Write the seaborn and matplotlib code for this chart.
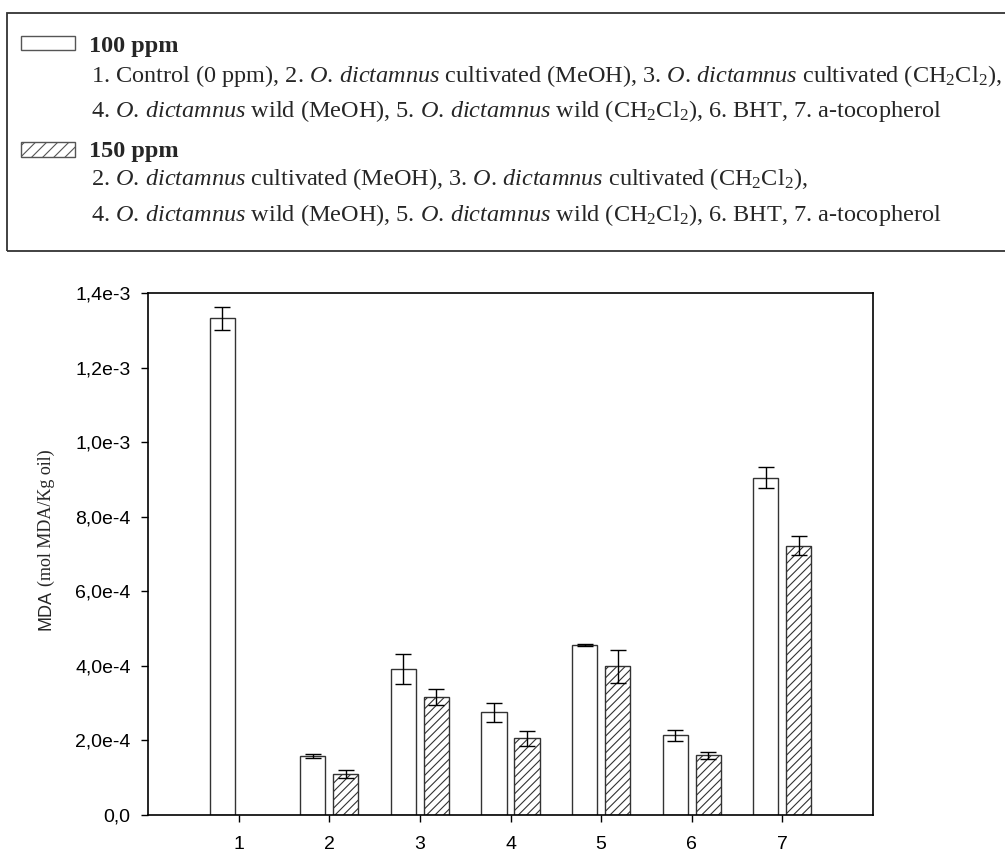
import numpy as np
import pandas as pd
import matplotlib
matplotlib.use('Agg')
import matplotlib.pyplot as plt
import seaborn as sns
from matplotlib.patches import Rectangle
from matplotlib.ticker import FuncFormatter

# ---------------------- data ---------------------- #
samples = ['1', '2', '3', '4', '5', '6', '7']
levels = ['100 ppm', '150 ppm']
mda_100 = [1.332e-3, 1.58e-4, 3.92e-4, 2.75e-4, 4.55e-4, 2.14e-4, 9.05e-4]
err_100 = [3.0e-5, 0.6e-5, 4.1e-5, 2.6e-5, 0.3e-5, 1.5e-5, 2.8e-5]
# sample 1 (control) has no 150 ppm bar
mda_150 = [None, 1.09e-4, 3.16e-4, 2.06e-4, 3.99e-4, 1.60e-4, 7.22e-4]
err_150 = [None, 1.07e-5, 2.1e-5, 2.05e-5, 4.4e-5, 1.0e-5, 2.5e-5]

yticks = [0, 2e-4, 4e-4, 6e-4, 8e-4, 1.0e-3, 1.2e-3, 1.4e-3]

OD = r'$\mathit{O.\!\ dictamnus}$'
legend_lines_100 = [
    f'1. Control (0 ppm), 2. {OD} cultivated (MeOH), 3. {OD} cultivated (CH$_2$Cl$_2$),',
    f'4. {OD} wild (MeOH), 5. {OD} wild (CH$_2$Cl$_2$), 6. BHT, 7. a-tocopherol',
]
legend_lines_150 = [
    f'2. {OD} cultivated (MeOH), 3. {OD} cultivated (CH$_2$Cl$_2$),',
    f'4. {OD} wild (MeOH), 5. {OD} wild (CH$_2$Cl$_2$), 6. BHT, 7. a-tocopherol',
]

rows = []
for s, v in zip(samples, mda_100):
    rows.append({'sample': s, 'level': levels[0], 'mda': v})
for s, v in zip(samples, mda_150):
    if v is not None:
        rows.append({'sample': s, 'level': levels[1], 'mda': v})
df = pd.DataFrame(rows)

# ---------------------- style ---------------------- #
sns.set_style('ticks')
plt.rcParams['font.family'] = ['Liberation Sans', 'DejaVu Sans']
plt.rcParams['mathtext.fontset'] = 'custom'
plt.rcParams['mathtext.rm'] = 'Liberation Serif'
plt.rcParams['mathtext.it'] = 'Liberation Serif:italic'
plt.rcParams['mathtext.bf'] = 'Liberation Serif:bold'
plt.rcParams['hatch.linewidth'] = 0.8
plt.rcParams['hatch.color'] = 'black'

W, H = 1005, 852
fig = plt.figure(figsize=(W / 100, H / 100), dpi=100)
ax = fig.add_axes([148 / W, 37 / H, 725 / W, 522 / H])

sns.barplot(data=df, x='sample', y='mda', hue='level', order=samples,
            hue_order=levels, palette=['white', 'white'], edgecolor='#333333',
            linewidth=1.0, width=0.73, gap=0.24, errorbar=None,
            legend=False, ax=ax)

# hatch the 150 ppm bars and add error bars
errs = [err_100, err_150]
for p in ax.patches:
    xc = p.get_x() + p.get_width() / 2
    i = int(round(xc))
    k = 0 if xc < i else 1
    if k == 1:
        p.set_hatch('////')
    ax.errorbar(xc, p.get_height(), yerr=errs[k][i], fmt='none',
                ecolor='black', elinewidth=1.0, capsize=5.5, capthick=1.0,
                zorder=5)

ax.set_xlim(-1, 7)
ax.set_ylim(0, 1.4e-3)
ax.set_yticks(yticks)


def fmt(v, pos):
    if v == 0:
        return '0,0'
    m, e = f'{v:.1e}'.split('e')
    return f"{m.replace('.', ',')}e{int(e)}"


ax.yaxis.set_major_formatter(FuncFormatter(fmt))
ax.tick_params(axis='both', direction='out', length=5, width=1.0,
               labelsize=14, colors='black')
ax.tick_params(axis='y', pad=7.5)
ax.tick_params(axis='x', pad=10)
for sp in ax.spines.values():
    sp.set_visible(True)
    sp.set_linewidth(1.2)
    sp.set_color('black')
ax.set_xlabel('')
ax.set_ylabel('')

# y label: "MDA" in sans, the unit in serif
fig.canvas.draw()
r = fig.canvas.get_renderer()
t1 = fig.text(46 / W, 1 - 630 / H, 'MDA', rotation=90, ha='center',
              va='bottom', fontsize=13, family='Liberation Sans')
bb = t1.get_window_extent(r)
fig.text(46 / W, (bb.y1 + 4) / H, '(mol MDA/Kg oil)', rotation=90,
         ha='center', va='bottom', fontsize=13, family='Liberation Serif')

# ---------------------- legend box ---------------------- #
fig.patches.append(Rectangle((7 / W, 1 - 251 / H), 1.1, 238 / H,
                             transform=fig.transFigure, fill=False,
                             edgecolor='#333333', linewidth=1.3,
                             clip_on=False))
fig.patches.append(Rectangle((21 / W, 1 - 50 / H), 54 / W, 14 / H,
                             transform=fig.transFigure, facecolor='white',
                             edgecolor='#555555', linewidth=1.0))
fig.patches.append(Rectangle((21 / W, 1 - 157 / H), 54 / W, 15 / H,
                             transform=fig.transFigure, facecolor='white',
                             edgecolor='#555555', linewidth=1.0,
                             hatch='///'))

serif = 'Liberation Serif'
fs = 17.45
fig.text(89 / W, 1 - 52 / H, '100 ppm', fontsize=fs, fontweight='bold',
         family=serif, va='baseline')
for yb, line in zip([82, 117], legend_lines_100):
    fig.text(91 / W, 1 - yb / H, line, fontsize=fs, family=serif,
             va='baseline')
fig.text(89 / W, 1 - 157 / H, '150 ppm', fontsize=fs, fontweight='bold',
         family=serif, va='baseline')
for yb, line in zip([185, 221], legend_lines_150):
    fig.text(91 / W, 1 - yb / H, line, fontsize=fs, family=serif,
             va='baseline')

fig.savefig('out.png', dpi=100, facecolor='white')
